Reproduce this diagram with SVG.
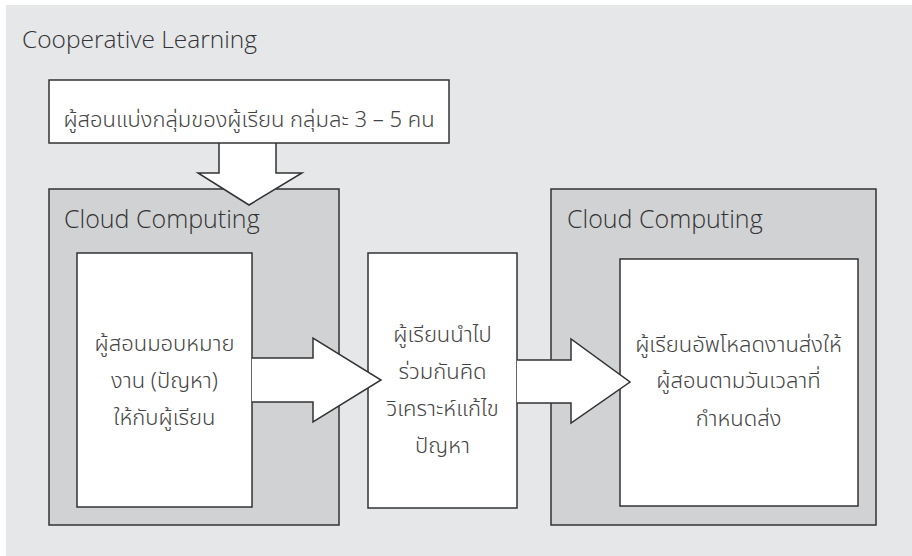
<svg xmlns="http://www.w3.org/2000/svg" width="912" height="556" viewBox="0 0 912 556">
<style>
.panel{fill:#d1d2d4;stroke:#333;stroke-width:1.5}
.box{fill:#fff;stroke:#333;stroke-width:1.5}
.arrow{fill:#fff;stroke:#333;stroke-width:1.5;stroke-linejoin:miter}
.lat{font-family:"Open Sans","Noto Sans","Liberation Sans",sans-serif;font-weight:300;fill:#333}
.th{font-family:"Noto Sans Thai","Noto Sans","Liberation Sans",sans-serif;font-weight:300;fill:#444;font-size:22px;text-anchor:middle}
</style>
<rect x="6" y="5" width="906" height="551" fill="#e6e7e9"/>
<text class="lat" x="22" y="48" font-size="24.5">Cooperative Learning</text>
<g id="panel-left">
<rect class="panel" x="49" y="189" width="290" height="336"/>
<text class="lat" x="64" y="228" font-size="25">Cloud Computing</text>
</g>
<g id="panel-right">
<rect class="panel" x="551" y="189" width="325" height="336"/>
<text class="lat" x="567" y="228" font-size="25">Cloud Computing</text>
</g>
<g id="box-assign">
<rect class="box" x="77" y="253" width="175" height="254"/>
<text class="th" x="164.5" y="351">ผู้สอนมอบหมาย</text>
<text class="th" x="164.5" y="388">งาน (ปัญหา)</text>
<text class="th" x="164.5" y="425">ให้กับผู้เรียน</text>
</g>
<g id="box-analyze">
<rect class="box" x="368" y="253" width="149" height="255"/>
<text class="th" x="442.5" y="342">ผู้เรียนนำไป</text>
<text class="th" x="442.5" y="379">ร่วมกันคิด</text>
<text class="th" x="442.5" y="416">วิเคราะห์แก้ไข</text>
<text class="th" x="442.5" y="453">ปัญหา</text>
</g>
<g id="box-upload">
<rect class="box" x="620" y="259" width="238" height="247"/>
<text class="th" x="738.5" y="352">ผู้เรียนอัพโหลดงานส่งให้</text>
<text class="th" x="738.5" y="388">ผู้สอนตามวันเวลาที่</text>
<text class="th" x="738.5" y="426">กำหนดส่ง</text>
</g>
<g id="connectors">
<path class="arrow" d="M219,143 L219,173 L198,173 L249,205 L302,173 L276,173 L276,143"/>
<path class="arrow" d="M252,358 L313,358 L313,338 L381,380 L313,422 L313,402 L252,402"/>
<path class="arrow" d="M517,360 L571,360 L571,339 L630,382 L571,423 L571,403 L517,403"/>
</g>
<g id="box-group">
<rect class="box" x="49" y="80" width="400" height="63"/>
<text class="th" x="249" y="127">ผู้สอนแบ่งกลุ่มของผู้เรียน กลุ่มละ 3 – 5 คน</text>
</g>
</svg>
